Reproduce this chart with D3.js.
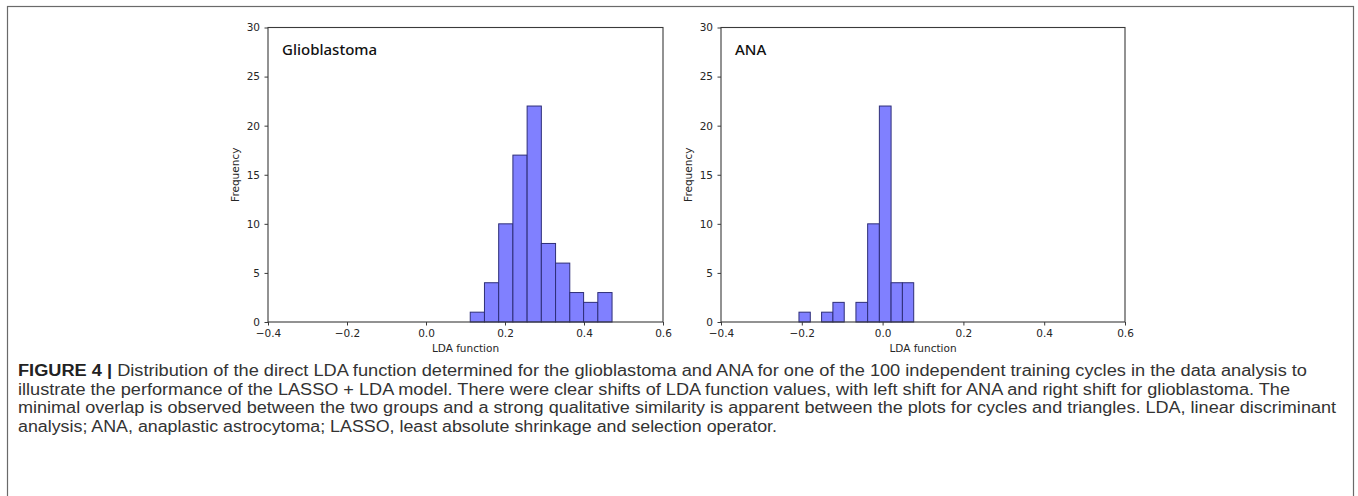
<!DOCTYPE html>
<html>
<head>
	<meta charset="utf-8">
	<title></title>
	<script src="https://d3js.org/d3.v7.min.js"></script>
	<style>
		body { margin: 0; background: #fff; }
	</style>
</head>
<body>

<script>

var width = 1358
var height = 496

// histogram bins
var gbmEdges = [0.112, 0.148, 0.184, 0.220, 0.256, 0.292, 0.328, 0.364, 0.399, 0.435, 0.471]
var gbmCounts = [1, 4, 10, 17, 22, 8, 6, 3, 2, 3]

var anaEdges = [-0.207, -0.179, -0.151, -0.123, -0.095, -0.066, -0.037, -0.008, 0.021, 0.049, 0.077]
var anaCounts = [1, 0, 1, 2, 0, 2, 10, 22, 4, 4]

var xTicks = [-0.4, -0.2, 0.0, 0.2, 0.4, 0.6]
var yTicks = [0, 5, 10, 15, 20, 25, 30]

var captionLines = [
	"Distribution of the direct LDA function determined for the glioblastoma and ANA for one of the 100 independent training cycles in the data analysis to",
	"illustrate the performance of the LASSO + LDA model. There were clear shifts of LDA function values, with left shift for ANA and right shift for glioblastoma. The",
	"minimal overlap is observed between the two groups and a strong qualitative similarity is apparent between the plots for cycles and triangles. LDA, linear discriminant",
	"analysis; ANA, anaplastic astrocytoma; LASSO, least absolute shrinkage and selection operator."
]
var captionEnds = [1307, 1290, 1336, 777]

var svg = d3.select('body').append('svg')
	.attr('width', width)
	.attr('height', height)

// outer figure frame
svg.append('rect')
	.attr('x', 7.5).attr('y', 6.5)
	.attr('width', 1346).attr('height', 520)
	.attr('fill', 'none')
	.attr('stroke', '#6a6a6a')
	.attr('stroke-width', 1.2)

function drawHist(left, right, title, edges, counts) {
	var top = 27.5, bottom = 322
	var x = d3.scaleLinear().domain([-0.4, 0.6]).range([left, right])
	var y = d3.scaleLinear().domain([0, 30]).range([bottom, top])

	var g = svg.append('g')

	var bins = counts.map(function(c, i) { return {x0: edges[i], x1: edges[i + 1], n: c} })
		.filter(function(d) { return d.n > 0 })

	g.selectAll('rect.bar')
		.data(bins)
		.enter().append('rect')
		.attr('class', 'bar')
		.attr('x', function(d) { return x(d.x0) })
		.attr('width', function(d) { return x(d.x1) - x(d.x0) })
		.attr('y', function(d) { return y(d.n) })
		.attr('height', function(d) { return y(0) - y(d.n) })
		.attr('fill', '#8080ff')
		.attr('stroke', '#2e2e78')
		.attr('stroke-width', 1)

	// spines
	g.append('rect')
		.attr('x', left).attr('y', top)
		.attr('width', right - left).attr('height', bottom - top)
		.attr('fill', 'none')
		.attr('stroke', '#3a3a3a')
		.attr('stroke-width', 1.1)

	var fmt = function(d) { return d3.format('.1f')(d).replace('-', '\u2212') }

	var xAxis = g.append('g')
		.attr('transform', 'translate(0,' + bottom + ')')
		.call(d3.axisBottom(x).tickValues(xTicks).tickFormat(fmt).tickSize(3.5).tickPadding(4))
	var yAxis = g.append('g')
		.attr('transform', 'translate(' + left + ',0)')
		.call(d3.axisLeft(y).tickValues(yTicks).tickSize(3.5).tickPadding(4.5))

	;[xAxis, yAxis].forEach(function(a) {
		a.select('.domain').remove()
		a.selectAll('line').attr('stroke', '#3a3a3a')
		a.selectAll('text')
			.attr('fill', '#262626')
			.style('font-family', 'DejaVu Sans')
			.style('font-size', '10.5px')
	})

	g.append('text')
		.attr('x', (left + right) / 2)
		.attr('y', 352)
		.attr('text-anchor', 'middle')
		.attr('fill', '#262626')
		.style('font-family', 'DejaVu Sans')
		.style('font-size', '10.5px')
		.text('LDA function')

	g.append('text')
		.attr('transform', 'translate(' + (left - 29) + ',' + ((top + bottom) / 2) + ') rotate(-90)')
		.attr('text-anchor', 'middle')
		.attr('fill', '#262626')
		.style('font-family', 'DejaVu Sans')
		.style('font-size', '10.5px')
		.text('Frequency')

	g.append('text')
		.attr('x', left + 14)
		.attr('y', 55)
		.attr('fill', '#111')
		.style('font-family', 'Noto Sans')
		.style('font-size', '15px')
		.style('font-weight', 500)
		.text(title)
}

drawHist(268, 663, 'Glioblastoma', gbmEdges, gbmCounts)
drawHist(721, 1125, 'ANA', anaEdges, anaCounts)

// caption
var cap = svg.append('g')
	.style('font-family', 'Liberation Sans')
	.style('font-size', '16px')
	.attr('fill', '#333')

var baselines = [376, 394.5, 413, 431.5]
captionLines.forEach(function(line, i) {
	var t = cap.append('text')
		.attr('x', 18)
		.attr('y', baselines[i])
		.attr('textLength', captionEnds[i] - 18)
		.attr('lengthAdjust', 'spacingAndGlyphs')
	if (i === 0) {
		t.append('tspan').style('font-weight', 'bold').attr('fill', '#222').text('FIGURE 4 | ')
	}
	t.append('tspan').text(line)
})

</script>

</body>
</html>
